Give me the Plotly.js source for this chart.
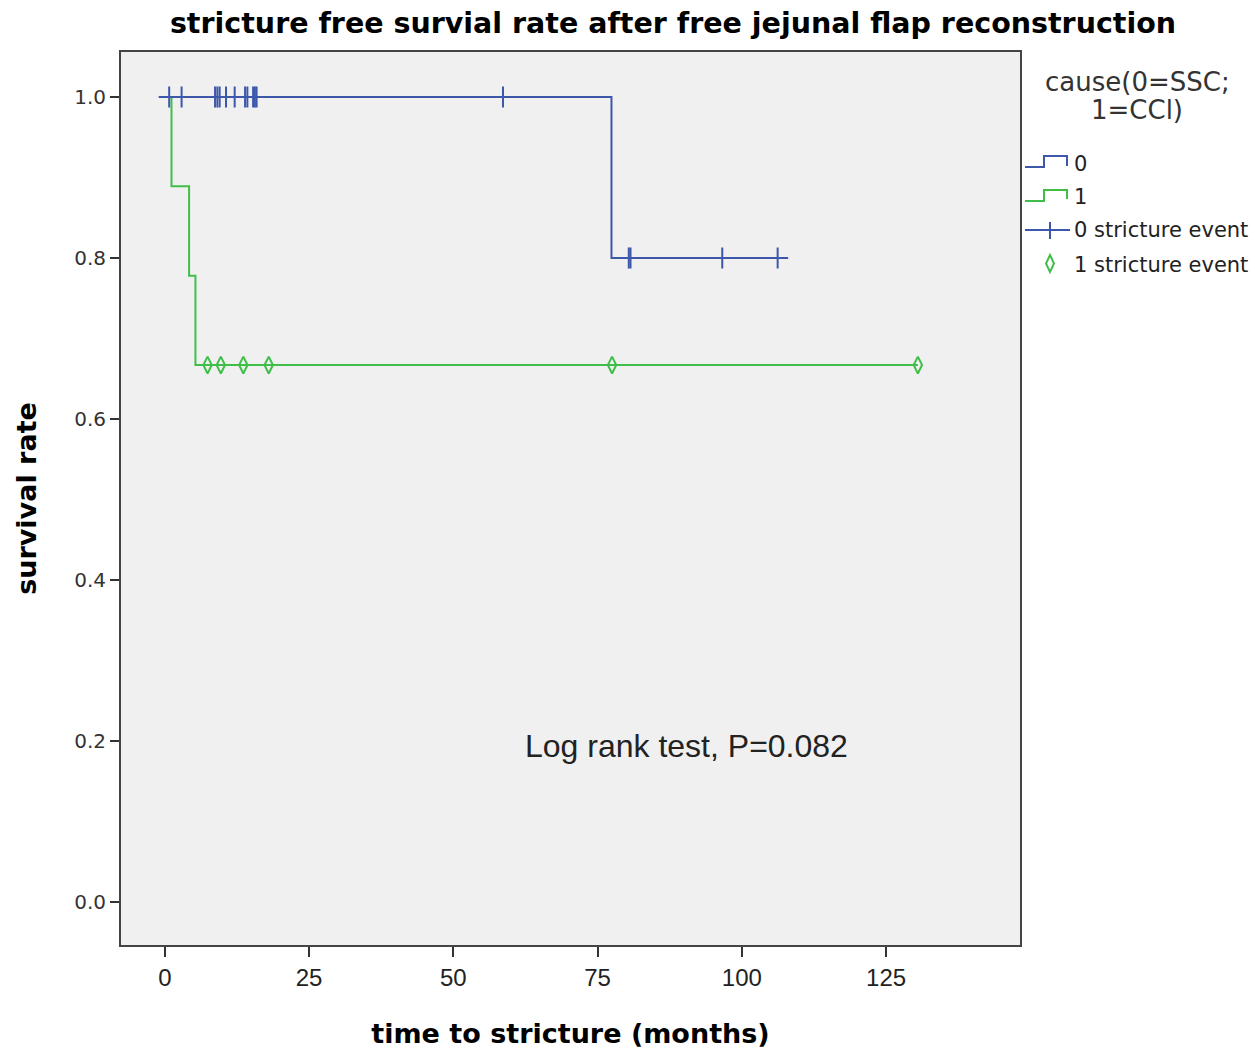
<!DOCTYPE html>
<html>
<head>
<meta charset="utf-8">
<script src="https://cdn.plot.ly/plotly-3.0.1.min.js"></script>
<style>html,body{margin:0;padding:0;background:#fff;}#chart{width:1255px;height:1051px;}</style>
</head>
<body>
<div id="chart"></div>
<script>
// Kaplan-Meier step curves (time in months, survival rate)
const group0StepTimes = [0, 77.4, 106.2];
const group0StepSurv  = [1.0, 0.8, 0.8];
const group1StepTimes = [0, 1.15, 4.2, 5.3, 130.5];
const group1StepSurv  = [1.0, 0.889, 0.778, 0.667, 0.667];

// Censored observations
const group0CensorTimes = [0.75, 2.9, 8.7, 9.1, 9.5, 10.6, 12.1, 13.9, 14.3, 15.3, 15.6, 15.9, 58.6, 80.4, 80.7, 96.6, 106.2];
const group0CensorSurv  = [1, 1, 1, 1, 1, 1, 1, 1, 1, 1, 1, 1, 1, 0.8, 0.8, 0.8, 0.8];
const group1CensorTimes = [7.4, 9.7, 13.6, 18.0, 77.5, 130.5];
const group1CensorSurv  = [0.667, 0.667, 0.667, 0.667, 0.667, 0.667];

const xTicks = [0, 25, 50, 75, 100, 125];
const yTicks = [0.0, 0.2, 0.4, 0.6, 0.8, 1.0];
const yTickLabels = ["0.0", "0.2", "0.4", "0.6", "0.8", "1.0"];

const legendTitleLines = ["cause(0=SSC;", "1=CCl)"];
const legendNames = ["0", "1", "0 stricture event", "1 stricture event"];

const BLUE = "#3d57ab";
const GREEN = "#3fbf4a";

const traces = [
  {x: group0StepTimes, y: group0StepSurv, mode: "lines", line: {shape: "hv", color: BLUE, width: 2}, showlegend: false, hoverinfo: "skip"},
  {x: group1StepTimes, y: group1StepSurv, mode: "lines", line: {shape: "hv", color: GREEN, width: 2}, showlegend: false, hoverinfo: "skip"},
  {x: group0CensorTimes, y: group0CensorSurv, mode: "markers", marker: {symbol: "cross-thin-open", size: 15, color: BLUE, line: {color: BLUE, width: 2}}, showlegend: false},
  {x: group1CensorTimes, y: group1CensorSurv, mode: "markers", marker: {symbol: "diamond-tall-open", size: 12, color: GREEN, line: {color: GREEN, width: 2}}, showlegend: false}
];

// custom SPSS-like legend (paper coordinates derived from pixels)
const L = 121, R = 1020, T = 52, B = 945;
const px = v => (v - L) / (R - L);
const py = v => (B - v) / (B - T);

const shapes = [
  {type: "path", xref: "paper", yref: "paper",
   path: `M ${px(1025)} ${py(167)} L ${px(1044)} ${py(167)} L ${px(1044)} ${py(156)} L ${px(1067)} ${py(156)} L ${px(1067)} ${py(166)}`,
   line: {color: BLUE, width: 2}},
  {type: "path", xref: "paper", yref: "paper",
   path: `M ${px(1025)} ${py(201)} L ${px(1044)} ${py(201)} L ${px(1044)} ${py(190)} L ${px(1067)} ${py(190)} L ${px(1067)} ${py(199)}`,
   line: {color: GREEN, width: 2}},
  {type: "line", xref: "paper", yref: "paper", x0: px(1025), x1: px(1070), y0: py(230), y1: py(230), line: {color: BLUE, width: 2}},
  {type: "line", xref: "paper", yref: "paper", x0: px(1050), x1: px(1050), y0: py(222), y1: py(239), line: {color: BLUE, width: 2}},
  {type: "path", xref: "paper", yref: "paper",
   path: `M ${px(1050)} ${py(255)} L ${px(1054)} ${py(263.5)} L ${px(1050)} ${py(272)} L ${px(1046)} ${py(263.5)} Z`,
   line: {color: GREEN, width: 2}}
];

const legendFont = {family: "DejaVu Sans, Arial, sans-serif", size: 21, color: "#222"};
const titleFont = {family: "DejaVu Sans, Arial, sans-serif", size: 26, color: "#333"};
const annotations = [
  {xref: "paper", yref: "paper", x: px(1137), y: py(82), text: legendTitleLines[0], showarrow: false, xanchor: "center", yanchor: "middle", font: titleFont},
  {xref: "paper", yref: "paper", x: px(1137), y: py(110), text: legendTitleLines[1], showarrow: false, xanchor: "center", yanchor: "middle", font: titleFont},
  {xref: "paper", yref: "paper", x: px(1072), y: py(164), text: legendNames[0], showarrow: false, xanchor: "left", yanchor: "middle", font: legendFont},
  {xref: "paper", yref: "paper", x: px(1072), y: py(197), text: legendNames[1], showarrow: false, xanchor: "left", yanchor: "middle", font: legendFont},
  {xref: "paper", yref: "paper", x: px(1072), y: py(230), text: legendNames[2], showarrow: false, xanchor: "left", yanchor: "middle", font: legendFont},
  {xref: "paper", yref: "paper", x: px(1072), y: py(265), text: legendNames[3], showarrow: false, xanchor: "left", yanchor: "middle", font: legendFont},
  {xref: "x", yref: "y", x: 90.4, y: 0.194, text: "Log rank test, P=0.082", showarrow: false, xanchor: "center", yanchor: "middle",
   font: {family: "Liberation Sans, Arial, sans-serif", size: 32, color: "#222"}}
];

const layout = {
  width: 1255, height: 1051,
  paper_bgcolor: "#ffffff", plot_bgcolor: "#f0f0f0",
  margin: {l: L, r: 1255 - R, t: T, b: 1051 - B, pad: 0},
  title: {text: "stricture free survial rate after free jejunal flap reconstruction",
          font: {family: "DejaVu Sans, Verdana, sans-serif", size: 28.5, color: "#000", weight: "bold"},
          x: 673 / 1255, xanchor: "center", xref: "container", y: 1 - 23 / 1051, yanchor: "middle", yref: "container"},
  xaxis: {range: [-7.6, 148.2], tickvals: xTicks, ticks: "outside", ticklen: 10, tickwidth: 2, tickcolor: "#333",
          showgrid: false, zeroline: false, showline: true, linecolor: "#444", linewidth: 2, mirror: true,
          tickfont: {family: "Liberation Sans Narrow, Arial Narrow, sans-serif", size: 24, color: "#222"},
          title: {text: "time to stricture (months)", standoff: 34,
                  font: {family: "DejaVu Sans, Verdana, sans-serif", size: 27, color: "#000", weight: "bold"}}},
  yaxis: {range: [-0.0534, 1.0559], tickvals: yTicks, ticktext: yTickLabels, ticks: "outside", ticklen: 9, tickwidth: 2, tickcolor: "#333",
          showgrid: false, zeroline: false, showline: true, linecolor: "#444", linewidth: 2, mirror: true,
          tickfont: {family: "DejaVu Sans, Arial, sans-serif", size: 20, color: "#333"},
          title: {text: "survival rate", standoff: 30,
                  font: {family: "DejaVu Sans, Verdana, sans-serif", size: 27, color: "#000", weight: "bold"}}},
  shapes: shapes,
  annotations: annotations,
  showlegend: false
};

Plotly.newPlot("chart", traces, layout, {displayModeBar: false, staticPlot: true});
</script>
</body>
</html>
